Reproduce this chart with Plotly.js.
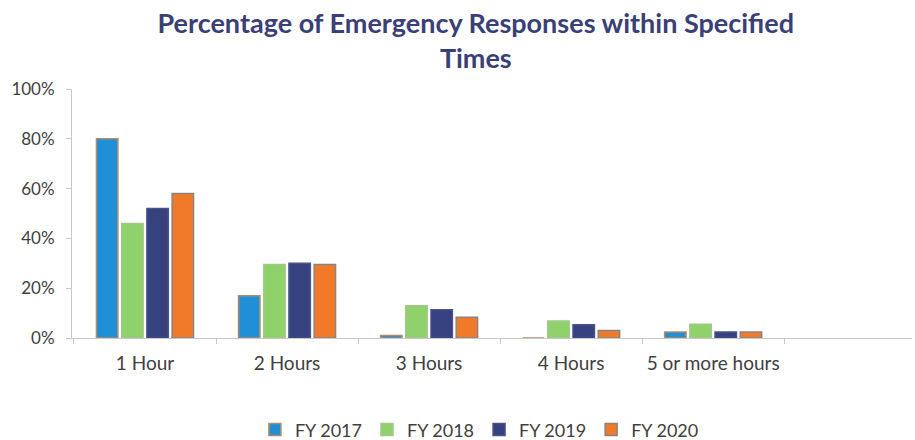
<!DOCTYPE html>
<html>
<head>
<meta charset="utf-8">
<script src="https://cdn.plot.ly/plotly-3.0.1.min.js"></script>
<style>body{margin:0;background:#fff}#chart{width:915px;height:440px}</style>
</head>
<body>
<div id="chart"></div>
<script>
const categories = ["1 Hour", "2 Hours", "3 Hours", "4 Hours", "5 or more hours"];
const fy2017 = [80, 17, 1, 0, 2.4];
const fy2018 = [46, 29.5, 13, 6.8, 5.5];
const fy2019 = [52, 30, 11.3, 5.3, 2.4];
const fy2020 = [58, 29.5, 8.3, 3, 2.4];
const seriesNames = ["FY 2017", "FY 2018", "FY 2019", "FY 2020"];

const colors = ["#1f8fd8", "#8fd16a", "#35427f", "#f07a2a"];
const lines = ["#b08a6a", "#9fc98a", "#4a5288", "#8a8480"];
const vals = [fy2017, fy2018, fy2019, fy2020];

const traces = vals.map((v, i) => ({
  type: "bar",
  name: seriesNames[i],
  x: categories,
  y: v,
  marker: {color: colors[i], line: {color: lines[i], width: 1.5}},
  hoverinfo: "skip"
}));

const layout = {
  width: 915, height: 440,
  margin: {l: 72, r: 3, t: 89, b: 102, autoexpand: false},
  paper_bgcolor: "#fff", plot_bgcolor: "#fff",
  barmode: "group", bargap: 0.29, bargroupgap: 0.15,
  title: {
    text: "Percentage of Emergency Responses within Specified<br>Times",
    font: {family: "Lato, 'Open Sans', sans-serif", size: 27, color: "#3a3f78", weight: 700},
    x: 0.52, xanchor: "center", y: 0.925, yanchor: "top"
  },
  xaxis: {
    type: "category",
    range: [-0.514, 5.4],
    showline: true, linecolor: "#c8c8c8", linewidth: 1,
    ticks: "outside", tickson: "boundaries", ticklen: 5, tickcolor: "#c8c8c8",
    ticklabelstandoff: 8,
    tickfont: {family: "Lato, sans-serif", size: 19, color: "#404040"},
    showgrid: false, zeroline: false
  },
  yaxis: {
    range: [0, 100],
    tickvals: [0, 20, 40, 60, 80, 100],
    ticktext: ["0%", "20%", "40%", "60%", "80%", "100%"],
    showline: true, linecolor: "#c8c8c8", linewidth: 1,
    ticks: "outside", ticklen: 5, tickcolor: "#c8c8c8",
    ticklabelstandoff: 8,
    tickfont: {family: "Lato, sans-serif", size: 17, color: "#404040"},
    showgrid: false, zeroline: false
  },
  showlegend: true,
  legend: {
    orientation: "h", x: 0.485, xanchor: "center",
    yref: "container", y: 0.023, yanchor: "middle",
    font: {family: "Lato, sans-serif", size: 18, color: "#404040"},
    itemwidth: 30, traceorder: "normal"
  }
};

Plotly.newPlot("chart", traces, layout, {displayModeBar: false, staticPlot: true});
</script>
</body>
</html>
